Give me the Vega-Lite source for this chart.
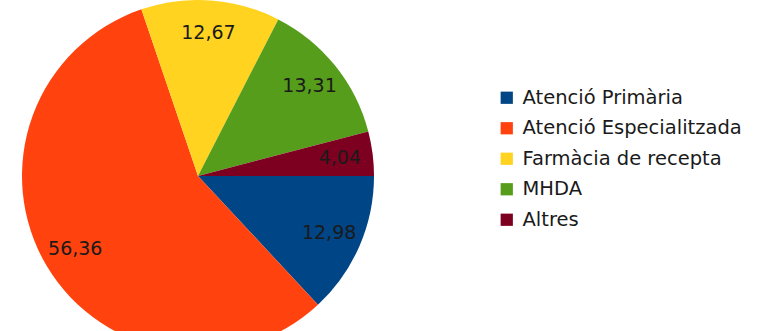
{
  "$schema": "https://vega.github.io/schema/vega-lite/v6.json",
  "width": 396,
  "height": 350,
  "padding": 0,
  "background": "white",
  "config": {"view": {"stroke": null}, "font": "DejaVu Sans"},
  "data": {
    "values": [
      {"category": "Atenció Primària", "value": 12.98, "label": "12,98", "o": 1},
      {"category": "Atenció Especialitzada", "value": 56.36, "label": "56,36", "o": 2},
      {"category": "Farmàcia de recepta", "value": 12.67, "label": "12,67", "o": 3},
      {"category": "MHDA", "value": 13.31, "label": "13,31", "o": 4},
      {"category": "Altres", "value": 4.04, "label": "4,04", "o": 5}
    ]
  },
  "encoding": {
    "theta": {"field": "value", "type": "quantitative", "stack": true, "scale": {"range": [1.5708, 7.854]}},
    "order": {"field": "o", "type": "quantitative"},
    "color": {
      "field": "category",
      "type": "nominal",
      "scale": {
        "domain": ["Atenció Primària", "Atenció Especialitzada", "Farmàcia de recepta", "MHDA", "Altres"],
        "range": ["#004586", "#ff420e", "#ffd320", "#579d1c", "#7e0021"]
      },
      "legend": {
        "orient": "none",
        "legendX": 497,
        "legendY": 87,
        "title": null,
        "symbolType": "square",
        "symbolSize": 150,
        "symbolStrokeWidth": 0,
        "labelFontSize": 19.5,
        "labelFont": "DejaVu Sans",
        "labelColor": "#1a1a1a",
        "labelLimit": 0,
        "rowPadding": 9.5,
        "labelOffset": 6,
        "padding": 0
      }
    }
  },
  "layer": [
    {"mark": {"type": "arc", "outerRadius": 176}},
    {
      "mark": {"type": "text", "radius": 143, "fontSize": 19, "font": "DejaVu Sans"},
      "encoding": {"text": {"field": "label"}, "color": {"value": "#1a1a1a"}}
    }
  ]
}
